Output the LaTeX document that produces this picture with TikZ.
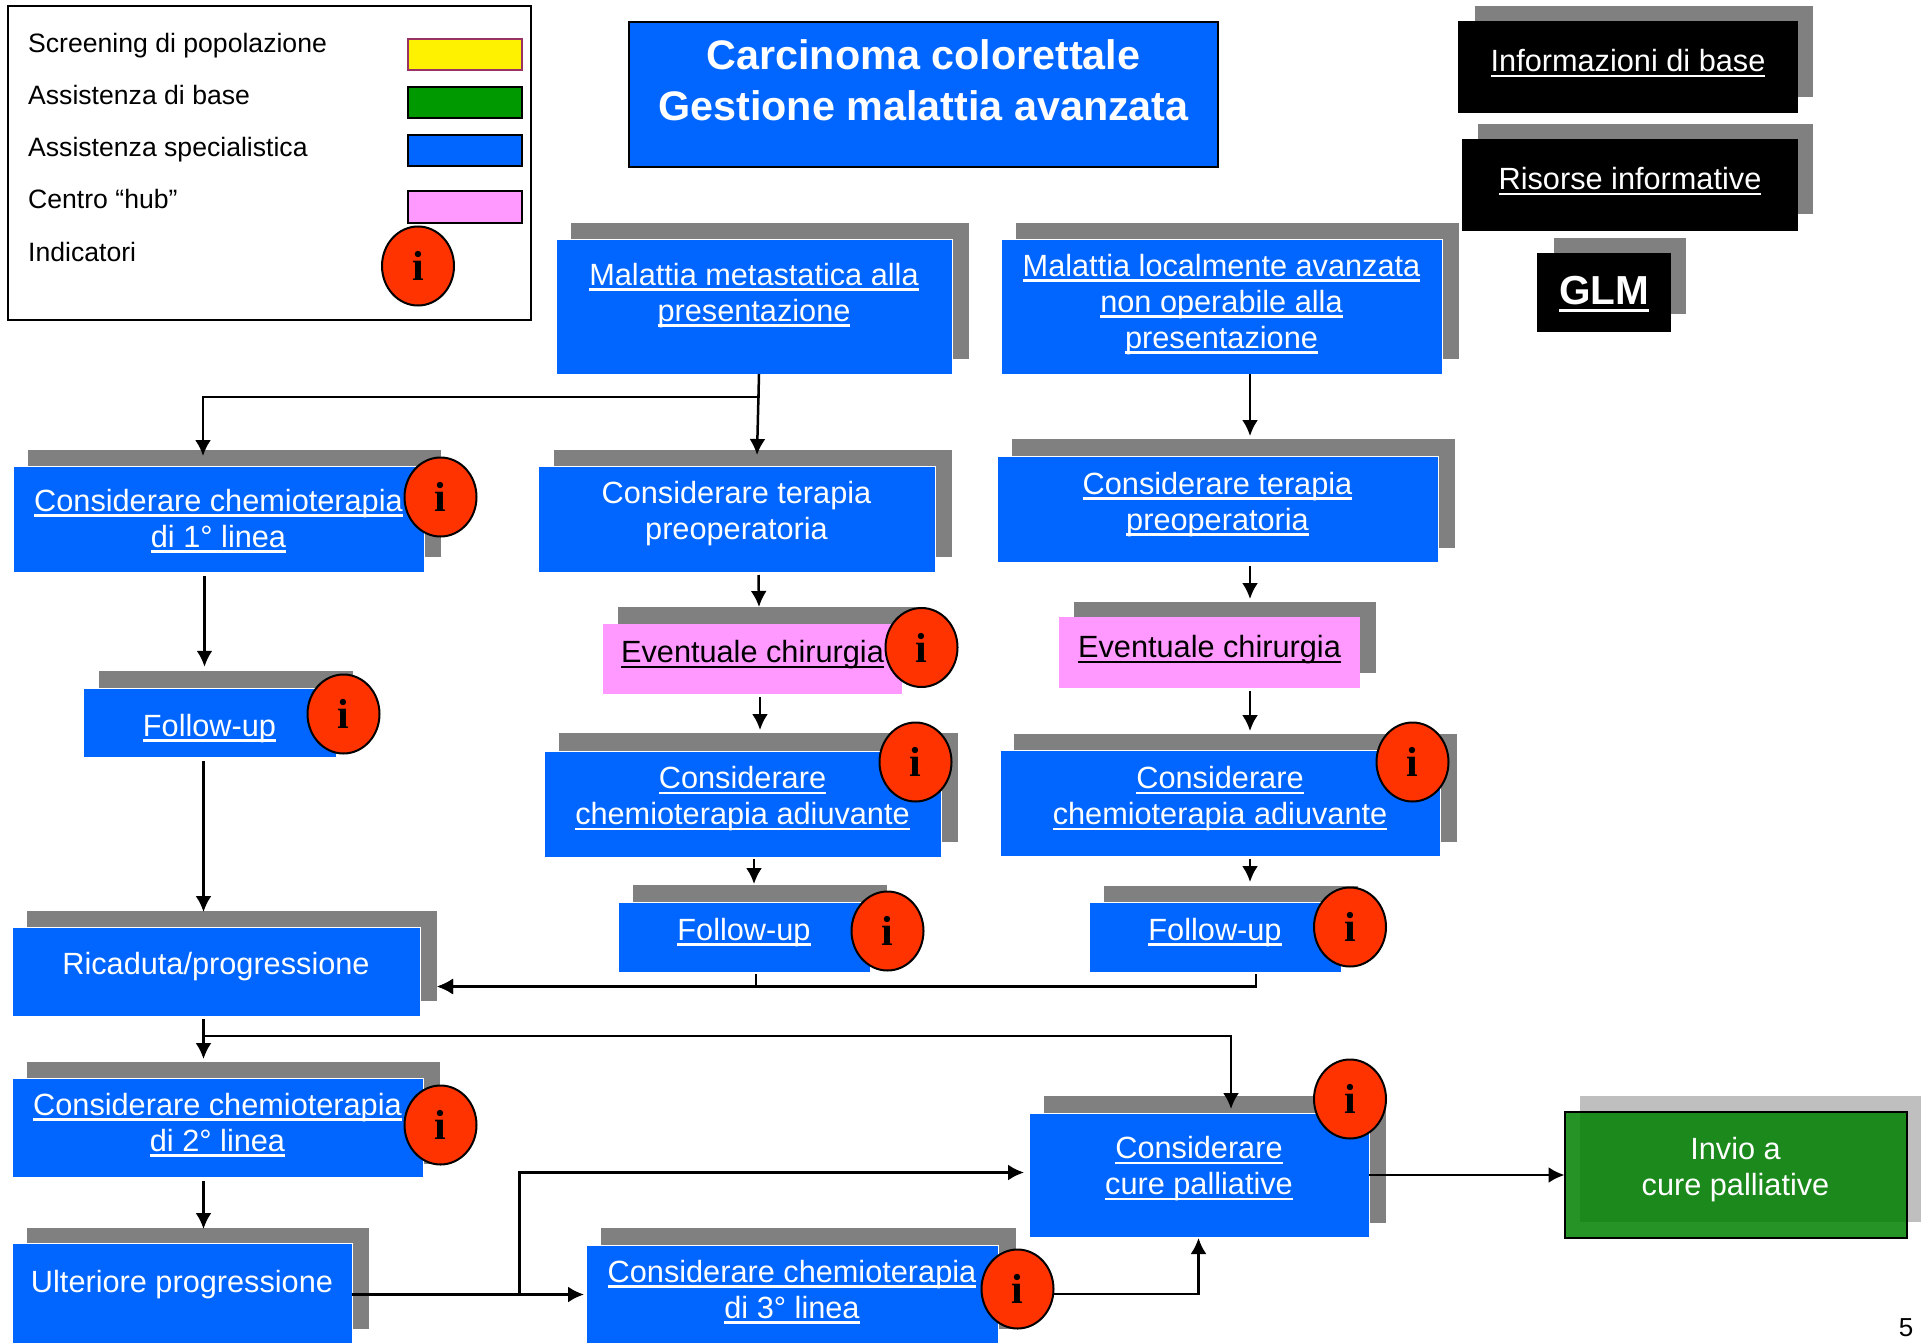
\documentclass[tikz,border=0pt]{standalone}
\usepackage{fontspec}
\setmainfont{Liberation Sans}
\newfontfamily\dotfont{Liberation Serif}
\usetikzlibrary{arrows.meta,shapes.geometric}
\definecolor{specblue}{HTML}{0066FF}
\definecolor{hubpink}{HTML}{FF99FF}
\definecolor{shadegray}{HTML}{808080}
\definecolor{dotred}{HTML}{FF3300}
% Testo sottolineato come un link
\newcommand{\lnk}[1]{\setbox0=\hbox{#1}\rlap{\rule[-0.18em]{\wd0}{0.075em}}\box0}
\tikzset{
    flowbox/.style={rectangle, inner sep=0pt, outer sep=0pt, align=center, text depth=0pt,
        font=\fontsize{30.7}{36}\selectfont},
    bluebox/.style={flowbox, fill=specblue, draw=white, line width=0.8pt, text=white},
    pinkbox/.style={flowbox, fill=hubpink, text=black},
    blackbox/.style={flowbox, fill=black, text=white},
    legtext/.style={anchor=base west, inner sep=0pt, font=\fontsize{26.6}{32}\selectfont},
    swatch/.style={rectangle, inner sep=0pt, outer sep=0pt, draw=black, line width=2pt,
        minimum width=114pt, minimum height=31pt},
    infodot/.style={ellipse, inner sep=0pt, outer sep=0pt, fill=dotred, draw=black, line width=2pt,
        minimum width=72pt, minimum height=79pt, font=\dotfont\bfseries\fontsize{42}{42}\selectfont},
    arrline/.style={-{Latex[length=16pt,width=16pt]}, line width=2.5pt, black},
}
\begin{document}
\begin{tikzpicture}[x=1pt, y=-1pt]
    \useasboundingbox (0,0) rectangle (1921,1343);

    % === Legenda ===
    \node[rectangle, draw=black, line width=2.5pt, inner sep=0pt, minimum width=523pt, minimum height=314pt] (legenda) at (269.5,163) {};
    \node[legtext] (legscreen) at (28,53) {Screening di popolazione};
    \node[legtext] (legbase) at (28,105) {Assistenza di base};
    \node[legtext] (legspec) at (28,157) {Assistenza specialistica};
    \node[legtext] (leghub) at (28,208.5) {Centro “hub”};
    \node[legtext] (legind) at (28,261) {Indicatori};
    \node[swatch, fill=yellow, draw={rgb,255:red,153;green,51;blue,102}] (swscreen) at (465,54.5) {};
    \node[swatch, fill={rgb,255:red,0;green,153;blue,0}] (swbase) at (465,103) {};
    \node[swatch, fill=specblue] (swspec) at (465,151) {};
    \node[swatch, fill=hubpink] (swhub) at (465,207) {};

    % === Titolo ===
    \node[flowbox, fill=specblue, draw=black, line width=2pt, text=white, minimum width=589pt, minimum height=145pt,
        text height=53pt, font=\bfseries\fontsize{41.3}{51.5}\selectfont] (titolo) at (923.5,94.5) {Carcinoma colorettale\\Gestione malattia avanzata};

    % === Riquadri neri ===
    \fill[shadegray] (1475,6) rectangle (1813,97);
    \node[blackbox, minimum width=340pt, minimum height=92pt, text height=9pt] (infobase) at (1628,67) {\lnk{Informazioni di base}};
    \fill[shadegray] (1478,124) rectangle (1813,214);
    \node[blackbox, minimum width=336pt, minimum height=92pt, text height=9pt] (risorse) at (1630,185) {\lnk{Risorse informative}};
    \fill[shadegray] (1554,238) rectangle (1686,314);
    \node[blackbox, minimum width=134pt, minimum height=79pt, text height=24pt, font=\bfseries\fontsize{40.5}{48}\selectfont] (glm) at (1604,292.5) {\lnk{GLM}};

    % === Presentazione ===
    \fill[shadegray] (571,223) rectangle (969,359);
    \node[bluebox, minimum width=396pt, minimum height=135pt, text height=29pt] (metast) at (754,306.5) {\lnk{Malattia metastatica alla}\\\lnk{presentazione}};
    \fill[shadegray] (1016,223) rectangle (1459,359);
    \node[bluebox, minimum width=441pt, minimum height=135pt, text height=83pt] (locav) at (1221.5,306.5) {\lnk{Malattia localmente avanzata}\\\lnk{non operabile alla}\\\lnk{presentazione}};

    % === Colonna sinistra ===
    \fill[shadegray] (28,450) rectangle (441,557);
    \node[bluebox, minimum width=411pt, minimum height=106pt, text height=56pt] (chemuno) at (218.5,519) {\lnk{Considerare chemioterapia}\\\lnk{di 1° linea}};
    \fill[shadegray] (99,671) rectangle (353,741);
    \node[bluebox, minimum width=253pt, minimum height=69.5pt, text height=26pt] (fusin) at (209.5,723) {\lnk{Follow-up}};
    \fill[shadegray] (27,911) rectangle (437,1001);
    \node[bluebox, minimum width=408pt, minimum height=89pt, text height=5pt] (ricaduta) at (216,971.5) {Ricaduta/progressione};
    \fill[shadegray] (27,1062) rectangle (440,1164);
    \node[bluebox, minimum width=411pt, minimum height=99pt, text height=47pt] (chemdue) at (217.5,1127.5) {\lnk{Considerare chemioterapia}\\\lnk{di 2° linea}};
    \fill[shadegray] (27,1228) rectangle (369,1329);
    \node[bluebox, minimum width=340pt, minimum height=103pt, text height=0pt, text depth=5pt] (ulteriore) at (182,1294.5) {Ulteriore progressione};

    % === Colonna centrale ===
    \fill[shadegray] (554,450) rectangle (952,557);
    \node[bluebox, minimum width=397pt, minimum height=106pt, text height=40pt] (termid) at (736.5,519) {Considerare terapia\\preoperatoria};
    \fill[shadegray] (618,607) rectangle (917,677);
    \node[pinkbox, minimum width=299pt, minimum height=70pt, text height=7pt] (chirmid) at (752.5,659) {\lnk{Eventuale chirurgia}};
    \fill[shadegray] (559,733) rectangle (958,842);
    \node[bluebox, minimum width=397pt, minimum height=106pt, text height=41pt] (adiumid) at (742.5,804) {\lnk{Considerare}\\\lnk{chemioterapia adiuvante}};
    \fill[shadegray] (633,885) rectangle (887,957);
    \node[bluebox, minimum width=252pt, minimum height=70pt, text height=6pt] (fumid) at (744,937) {\lnk{Follow-up}};

    % === Colonna destra ===
    \fill[shadegray] (1012,439) rectangle (1455,548);
    \node[bluebox, minimum width=441pt, minimum height=106pt, text height=42pt] (terdes) at (1217.5,509) {\lnk{Considerare terapia}\\\lnk{preoperatoria}};
    \fill[shadegray] (1074,601.5) rectangle (1376,672.5);
    \node[pinkbox, minimum width=301pt, minimum height=71pt, text height=10pt] (chirdes) at (1209.5,652.5) {\lnk{Eventuale chirurgia}};
    \fill[shadegray] (1014,734) rectangle (1457,842);
    \node[bluebox, minimum width=440pt, minimum height=106pt, text height=43pt] (adiudes) at (1220,803) {\lnk{Considerare}\\\lnk{chemioterapia adiuvante}};
    \fill[shadegray] (1104,886) rectangle (1358,957);
    \node[bluebox, minimum width=252pt, minimum height=70pt, text height=6pt] (fudes) at (1215,937) {\lnk{Follow-up}};

    % === Parte bassa ===
    \fill[shadegray] (601,1228) rectangle (1016,1329);
    \node[bluebox, minimum width=412pt, minimum height=101pt, text height=45pt] (chemtre) at (792,1295.5) {\lnk{Considerare chemioterapia}\\\lnk{di 3° linea}};
    \fill[shadegray] (1044,1096) rectangle (1386,1223);
    \node[bluebox, minimum width=340pt, minimum height=124pt, text height=39pt] (cure) at (1199,1175) {\lnk{Considerare}\\\lnk{cure palliative}};
    \fill[gray!50] (1580,1096) rectangle (1921,1222);
    \node[flowbox, text=white, draw=black, line width=2pt, fill={rgb,255:red,0;green,128;blue,0}, fill opacity=0.85, text opacity=1,
        minimum width=342pt, minimum height=126pt, text height=40pt] (invio) at (1735.5,1175) {Invio a\\cure palliative};

    % === Frecce ===
    \draw[arrline] ([xshift=5pt]metast.south) -- ++(0,23) -| ([xshift=-15.5pt,yshift=10pt]chemuno.north);
    \draw[arrline] ([xshift=5pt]metast.south) -- ([xshift=20.5pt,yshift=11pt]termid.north);
    \draw[arrline] ([xshift=28.5pt]locav.south) -- ([xshift=32.5pt,yshift=20pt]terdes.north);
    \draw[arrline] ([xshift=-14pt,yshift=-4pt]chemuno.south) -- ([xshift=-5pt,yshift=21.5pt]fusin.north);
    \draw[arrline] ([xshift=-6pt,yshift=-3pt]fusin.south) -- ([xshift=-12.5pt,yshift=15pt]ricaduta.north);
    \draw[arrline] ([xshift=22pt,yshift=-3pt]termid.south) -- ([xshift=6.5pt,yshift=17pt]chirmid.north);
    \draw[arrline] ([xshift=7.5pt,yshift=-3pt]chirmid.south) -- ([xshift=17.5pt,yshift=21pt]adiumid.north);
    \draw[arrline] ([xshift=11.5pt,yshift=-2pt]adiumid.south) -- ([xshift=10pt,yshift=18pt]fumid.north);
    \draw[arrline] ([xshift=32.5pt,yshift=-4pt]terdes.south) -- ([xshift=40.5pt,yshift=18pt]chirdes.north);
    \draw[arrline] ([xshift=40.5pt,yshift=-3pt]chirdes.south) -- ([xshift=30pt,yshift=19pt]adiudes.north);
    \draw[arrline] ([xshift=30pt,yshift=-3pt]adiudes.south) -- ([xshift=35pt,yshift=20pt]fudes.north);
    \draw[arrline] ([xshift=12pt,yshift=-2pt]fumid.south) |- ([xshift=17pt,yshift=-15pt]ricaduta.east);
    \draw[arrline] ([xshift=41pt,yshift=-2pt]fudes.south) |- ([xshift=17pt,yshift=-15pt]ricaduta.east);
    \draw[arrline] ([xshift=-12.5pt,yshift=-3pt]ricaduta.south) -- ([xshift=-14pt,yshift=19pt]chemdue.north);
    \draw[arrline] ([xshift=-12.5pt,yshift=-3pt]ricaduta.south) -- ++(0,17) -| ([xshift=32pt,yshift=4pt]cure.north);
    \draw[arrline] ([xshift=-14pt,yshift=-4pt]chemdue.south) -- ([xshift=21.5pt,yshift=14pt]ulteriore.north);
    \draw[arrline] (ulteriore.east) -- ([xshift=-2pt,yshift=1pt]chemtre.west);
    \draw[arrline] ([xshift=167.5pt]ulteriore.east) |- ([xshift=-5pt,yshift=2.5pt]cure.west);
    \draw[arrline] (cure.east) -- (invio.west);

    % === Indicatori ===
    \node[infodot] (ileg) at (418,266) {i};
    \node[infodot] (ichemuno) at (440.5,497) {i};
    \node[infodot] (ifusin) at (343.5,714) {i};
    \node[infodot] (ichemdue) at (440.5,1125) {i};
    \node[infodot] (ichirmid) at (921.5,647.5) {i};
    \node[infodot] (iadiumid) at (915.5,762) {i};
    \node[infodot] (ifumid) at (887.5,931) {i};
    \node[infodot] (iadiudes) at (1412.5,762) {i};
    \node[infodot] (ifudes) at (1350,927) {i};
    \node[infodot] (ichemtre) at (1017.5,1289) {i};
    \node[infodot] (icure) at (1350,1099) {i};
    \draw[arrline] ([yshift=-5pt]ichemtre.east) -| ([xshift=-0.5pt,yshift=-1pt]cure.south);

    % Numero di pagina
    \node[inner sep=0pt, font=\fontsize{26}{30}\selectfont] (pagina) at (1906,1328) {5};

\end{tikzpicture}
\end{document}
